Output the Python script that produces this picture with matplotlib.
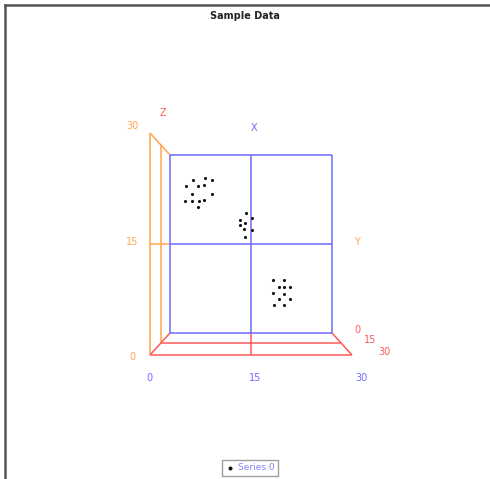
"""
Sample Data: 3D-style scatter drawn on a 2D axes with a perspective frame.
"""
import numpy as np
import matplotlib
matplotlib.use('Agg')
import matplotlib.pyplot as plt

x_vals = [4.2, 6.5, 7.8, 3.0, 5.2, 6.3, 4.1, 7.7, 2.8, 4.1, 5.4, 6.3, 5.1,
          14.1, 13.0, 13.9, 15.1, 13.0, 13.7, 15.1, 13.9,
          19.0, 21.1, 20.2, 21.1, 22.2, 19.0, 21.2, 20.2, 22.2, 19.2, 21.2]
z_vals = [25.8, 26.1, 25.8, 24.7, 24.8, 24.9, 23.5, 23.4, 22.3, 22.3, 22.2, 22.5, 21.2,
          20.3, 19.1, 18.6, 19.3, 18.2, 17.5, 17.4, 16.2,
          8.9, 8.9, 7.8, 7.8, 7.8, 6.8, 6.6, 5.7, 5.7, 4.7, 4.7]
tick_values = [0, 15, 30]
series_name = 'Series 0'
title = 'Sample Data'

BLUE = '#6b6bff'
ORANGE = '#ffa64d'
RED = '#ff5a5a'
C = 0.198  # perspective strength: front plane (depth 30) is 1/(1-C) times bigger


def proj(x, d, z):
    s = 1.0 / (1 - C * d / 30.0)
    return 15 + (x - 15) * s, 15 + (z - 15) * s


def seg(ax, p0, p1, color):
    a = proj(*p0)
    b = proj(*p1)
    ax.plot([a[0], b[0]], [a[1], b[1]], color=color, lw=1.1, clip_on=False,
            solid_capstyle='butt')


W, H = 490, 479
fig = plt.figure(figsize=(W / 100, H / 100), dpi=100)
ax = fig.add_axes([170 / W, (H - 333) / H, 162 / W, 178 / H])
ax.set_xlim(0, 30)
ax.set_ylim(0, 30)
ax.axis('off')

lo, mid, hi = tick_values

# left wall (orange)
for d in (mid, hi):
    seg(ax, (lo, d, lo), (lo, d, hi), ORANGE)
seg(ax, (lo, 0, hi), (lo, hi, hi), ORANGE)
seg(ax, (lo, 0, mid), (lo, hi, mid), ORANGE)

# floor (red)
for d in (mid, hi):
    seg(ax, (lo, d, lo), (hi, d, lo), RED)
for xv in (lo, mid, hi):
    seg(ax, (xv, 0, lo), (xv, hi, lo), RED)

# back plane (blue)
seg(ax, (lo, 0, lo), (hi, 0, lo), BLUE)
seg(ax, (lo, 0, hi), (hi, 0, hi), BLUE)
seg(ax, (lo, 0, lo), (lo, 0, hi), BLUE)
seg(ax, (hi, 0, lo), (hi, 0, hi), BLUE)
seg(ax, (mid, 0, lo), (mid, 0, hi), BLUE)
seg(ax, (lo, 0, mid), (hi, 0, mid), BLUE)

# points
ax.scatter(x_vals, z_vals, s=5, color='#111111', zorder=5, clip_on=False,
           label=series_name, linewidths=0)

fs = 7
# Z tick labels (orange) left of front wall edge
for v in tick_values:
    px, pz = proj(lo, hi, v)
    ax.text(px - 3.3, pz - 0.34 + 0.05 * v, str(v), color=ORANGE, fontsize=fs,
            ha='center', va='center')
# X tick labels (blue) under the front floor edge
for v in tick_values:
    px, pz = proj(v, hi, lo)
    ax.text(px - 0.1 + 0.06 * v, pz - 3.9, str(v), color=BLUE, fontsize=fs,
            ha='center', va='center')
# depth tick labels (red) to the right of the floor
for v in tick_values:
    px, pz = proj(hi, v, lo)
    ax.text(px + 4.8 + 0.043 * v, pz + 0.45, str(v), color=RED, fontsize=fs,
            ha='center', va='center')

ax.text(15.5, 34.6, 'X', color=BLUE, fontsize=fs, ha='center', va='center')
ax.text(-1.3, 37.0, 'Z', color=RED, fontsize=fs, ha='center', va='center')
ax.text(34.7, 15.3, 'Y', color=ORANGE, fontsize=fs, ha='center', va='center')

fig.text(245 / W, 1 - 16 / H, title, fontsize=7, fontweight='bold',
         ha='center', va='center', color='#222222')

leg = fig.legend(loc='center', bbox_to_anchor=(250 / W, 1 - 468 / H),
                 fontsize=6.5, frameon=True, fancybox=False, markerscale=1.3,
                 handletextpad=0.3, borderpad=0.4, handlelength=1.0)
leg.get_frame().set_edgecolor('#888888')
leg.get_frame().set_linewidth(1.0)
for t in leg.get_texts():
    t.set_color('#8080ff')

# outer border lines (top and left)
fig.add_artist(plt.Line2D([5 / W, 1], [1 - 5 / H, 1 - 5 / H], color='#555555',
                          lw=1.8, transform=fig.transFigure))
fig.add_artist(plt.Line2D([5 / W, 5 / W], [0, 1 - 5 / H], color='#555555',
                          lw=1.8, transform=fig.transFigure))

fig.savefig('out.png', dpi=100)
